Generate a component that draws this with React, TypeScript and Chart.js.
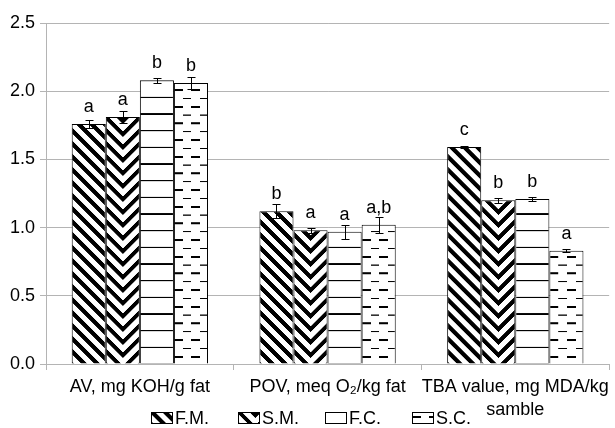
import { useEffect, useRef } from 'react';
import { Chart, registerables } from 'chart.js';
Chart.register(...registerables);

const categories = [['AV, mg KOH/g fat'], ['POV, meq O₂/kg fat'], ['TBA value, mg MDA/kg', 'samble']];
const seriesNames = ['F.M.', 'S.M.', 'F.C.', 'S.C.'];
const fmValues = [1.76, 1.12, 1.59];
const smValues = [1.81, 0.98, 1.2];
const fcValues = [2.08, 0.97, 1.21];
const scValues = [2.06, 1.02, 0.83];
const fmErrors = [0.03, 0.05, 0.01];
const smErrors = [0.045, 0.018, 0.017];
const fcErrors = [0.018, 0.05, 0.012];
const scErrors = [0.044, 0.06, 0.012];
const fmLetters = ['a', 'b', 'c'];
const smLetters = ['a', 'a', 'b'];
const fcLetters = ['b', 'a', 'b'];
const scLetters = ['b', 'a,b', 'a'];
const yMin = 0;
const yMax = 2.5;
const yStep = 0.5;

const values = [fmValues, smValues, fcValues, scValues];
const errors = [fmErrors, smErrors, fcErrors, scErrors];
const letters = [fmLetters, smLetters, fcLetters, scLetters];

const FONT = '"Liberation Sans", Arial, sans-serif';
const FS = 18;
const GRID = '#b4b4b4';
const CAT_PCT = 0.726;
const S = 3;

function tile(w: number, h: number, draw: (g: CanvasRenderingContext2D, w: number, h: number) => void) {
  const c = document.createElement('canvas');
  c.width = Math.round(w * S);
  c.height = Math.round(h * S);
  const g = c.getContext('2d')!;
  g.scale(S, S);
  g.fillStyle = '#fff';
  g.fillRect(0, 0, w, h);
  g.strokeStyle = '#000';
  g.fillStyle = '#000';
  draw(g, w, h);
  return c;
}

function makeTiles() {
  const fm = tile(13, 13, (g, w) => {
    g.lineWidth = 4.2;
    g.beginPath();
    for (const o of [-w, 0, w]) {
      g.moveTo(o - 3, -3);
      g.lineTo(o + w + 3, w + 3);
    }
    g.stroke();
  });
  const sm = tile(103 / 3, 13, (g, w, h) => {
    g.lineWidth = 4;
    g.lineJoin = 'miter';
    g.beginPath();
    for (let dy = -3 * h; dy <= h; dy += h) {
      g.moveTo(-3, dy - 3);
      g.lineTo(w / 2, dy + w / 2);
      g.lineTo(w + 3, dy - 3);
    }
    g.stroke();
  });
  const fc = tile(10, 50 / 3, (g, w, h) => {
    g.fillRect(0, 0, w, 0.7);
    g.fillRect(0, h - 0.7, w, 0.7);
  });
  const sc = tile(52 / 3, 50 / 3, (g, w) => {
    g.fillRect(0, 8.4, 9, 2);
    g.fillRect(9, 0.5, w - 9, 1.1);
  });
  return [fm, sm, fc, sc];
}

export default function App() {
  const ref = useRef<HTMLCanvasElement>(null);
  useEffect(() => {
    document.body.style.margin = '0';
    const tiles = makeTiles();
    const makeBg = (t: HTMLCanvasElement) => (ctx: any) => {
      const chart = ctx.chart;
      const xs = chart.scales?.x;
      const area = chart.chartArea;
      if (!xs || !area || ctx.type !== 'data') return '#fff';
      const p = chart.ctx.createPattern(t, 'repeat');
      const n = seriesNames.length;
      const cw = (xs.right - xs.left) / categories.length;
      const bw = (cw * CAT_PCT) / n;
      const left = xs.getPixelForValue(ctx.dataIndex) - (bw * n) / 2 + ctx.datasetIndex * bw;
      p.setTransform(new DOMMatrix().translateSelf(left, area.bottom).scaleSelf(1 / S, 1 / S));
      return p;
    };

    const annot = {
      id: 'annot',
      afterDatasetsDraw(chart: any) {
        const g = chart.ctx;
        const ys = chart.scales.y;
        g.save();
        g.strokeStyle = '#000';
        g.lineWidth = 1;
        g.fillStyle = '#000';
        g.font = `${FS}px ${FONT}`;
        g.textAlign = 'center';
        g.textBaseline = 'alphabetic';
        chart.data.datasets.forEach((_ds: any, di: number) => {
          const meta = chart.getDatasetMeta(di);
          meta.data.forEach((el: any, i: number) => {
            const v = values[di][i];
            const e = errors[di][i];
            const x = Math.round(el.x) + 0.5;
            const yt = Math.round(ys.getPixelForValue(v + e)) + 0.5;
            const yb = Math.round(ys.getPixelForValue(v - e)) + 0.5;
            g.beginPath();
            g.moveTo(x, yt);
            g.lineTo(x, yb);
            g.moveTo(x - 4, yt);
            g.lineTo(x + 4, yt);
            g.moveTo(x - 4, yb);
            g.lineTo(x + 4, yb);
            g.stroke();
            g.fillText(letters[di][i], el.x, ys.getPixelForValue(v) - 12);
          });
        });
        g.restore();
      },
      afterDraw(chart: any) {
        const g = chart.ctx;
        g.save();
        g.font = `${FS}px ${FONT}`;
        g.textBaseline = 'middle';
        g.textAlign = 'left';
        const boxW = 22;
        const boxH = 12;
        const step = 87;
        const x0 = 151;
        const yBox = 412;
        seriesNames.forEach((s, i) => {
          const x = x0 + i * step;
          const p = g.createPattern(tiles[i], 'repeat');
          p.setTransform(new DOMMatrix().translateSelf(x, yBox + boxH).scaleSelf(1 / S, 1 / S));
          g.fillStyle = p;
          g.fillRect(x, yBox, boxW, boxH);
          g.strokeStyle = '#000';
          g.lineWidth = 1;
          g.strokeRect(x + 0.5, yBox + 0.5, boxW - 1, boxH - 1);
          g.fillStyle = '#000';
          g.fillText(s, x + boxW + 2, yBox + boxH / 2 + 1);
        });
        g.restore();
      },
    };

    const chart = new Chart(ref.current!, {
      type: 'bar',
      data: {
        labels: categories as any,
        datasets: seriesNames.map((name, i) => ({
          label: name,
          data: values[i],
          backgroundColor: makeBg(tiles[i]) as any,
          borderColor: '#000',
          borderWidth: 1,
          barPercentage: 1,
          categoryPercentage: CAT_PCT,
        })),
      },
      options: {
        responsive: false,
        animation: false,
        layout: { padding: { top: 23, right: 1, left: 0, bottom: 0 } },
        plugins: { legend: { display: false }, tooltip: { enabled: false } },
        scales: {
          x: {
            grid: { display: true, drawOnChartArea: false, tickLength: 6, color: GRID, offset: true },
            border: { color: GRID },
            ticks: { color: '#000', font: { family: FONT, size: FS, lineHeight: 1.25 }, padding: 6, maxRotation: 0, autoSkip: false },
            afterFit: (s: any) => {
              s.height = 64;
            },
          },
          y: {
            min: yMin,
            max: yMax,
            grid: { color: GRID, tickLength: 6 },
            border: { color: GRID },
            ticks: {
              stepSize: yStep,
              color: '#000',
              font: { family: FONT, size: FS },
              padding: 5,
              callback: (v: any) => Number(v).toFixed(1),
            },
            afterFit: (s: any) => {
              s.width = 46;
            },
          },
        },
      },
      plugins: [annot],
    });
    return () => chart.destroy();
  }, []);
  return (
    <div style={{ width: 615, height: 428 }}>
      <canvas ref={ref} width={615} height={428} />
    </div>
  );
}
